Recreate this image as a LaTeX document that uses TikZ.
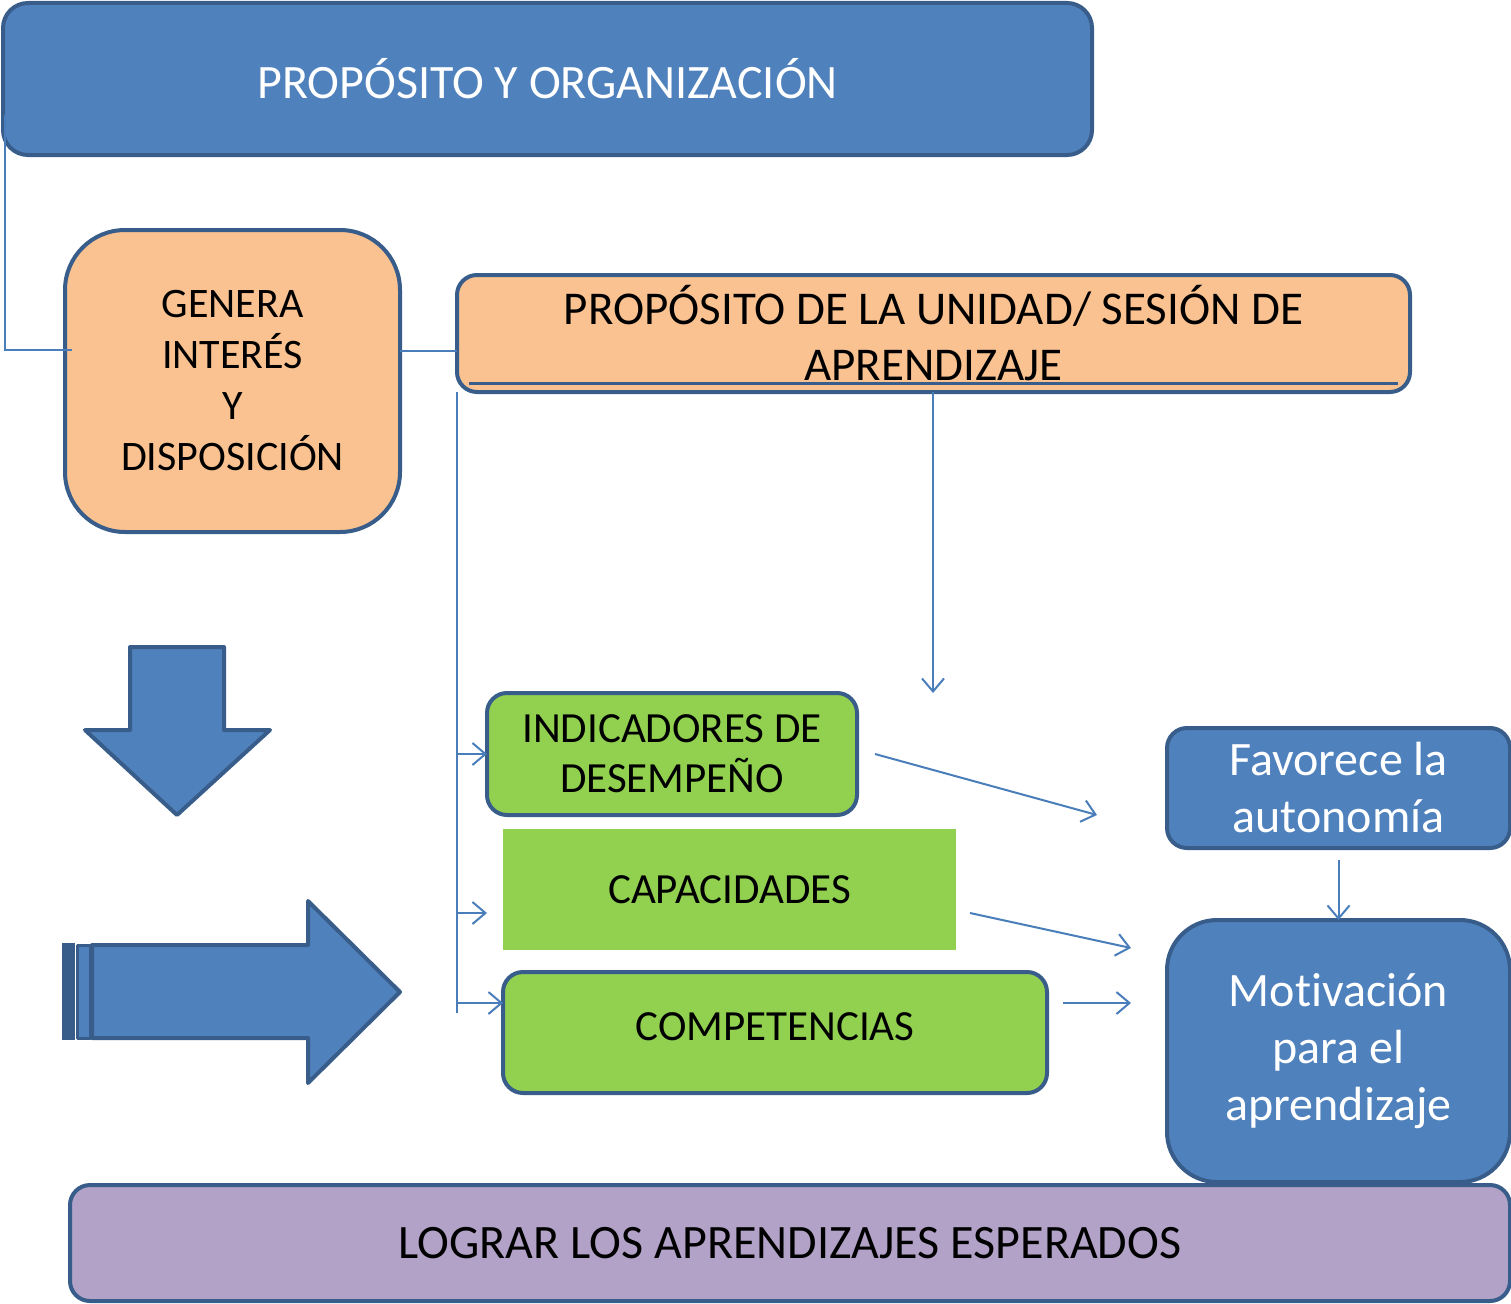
\documentclass[tikz,border=0pt]{standalone}
\usepackage{fontspec}
\setmainfont{Carlito}[Ligatures=NoCommon]
\usepackage{tikz}
\usetikzlibrary{arrows.meta}
\definecolor{fillblue}{HTML}{4F81BD}
\definecolor{bordblue}{HTML}{385D8A}
\definecolor{lineblue}{HTML}{4A7EBB}
\definecolor{peach}{HTML}{F9C290}
\definecolor{leaf}{HTML}{92D050}
\definecolor{lilac}{HTML}{B2A2C7}
\tikzset{
    every node/.style={inner sep=0pt, outer sep=0pt, align=center},
    box/.style={draw=bordblue, line width=4pt, rounded corners=20pt},
    bluebox/.style={box, fill=fillblue, text=white},
    peachbox/.style={box, fill=peach},
    greenbox/.style={box, fill=leaf}
}
\tikzset{
    conn/.style={draw=lineblue, line width=2pt},
    tip/.style={-{Straight Barb[length=13pt,width=22pt,line width=2pt]}}
}
\tikzset{
    bigarrow/.style={fill=fillblue, draw=bordblue, line width=4pt, line join=round}
}
\newcommand{\ftitle}{\fontsize{48}{56}\selectfont}
\newcommand{\fsub}{\fontsize{47}{56}\selectfont}
\newcommand{\fgen}{\fontsize{42}{51}\selectfont}
\newcommand{\fgreen}{\fontsize{43}{50}\selectfont}
\newcommand{\fright}{\fontsize{48}{57}\selectfont}

\begin{document}
\begin{tikzpicture}[x=1pt, y=-1pt]
	\useasboundingbox (0,0) rectangle (1511,1303);

	\node (top) [bluebox, rounded corners=25pt, minimum width=1089pt, minimum height=152pt,
		font=\ftitle] at (547.5, 79) {PROPÓSITO Y ORGANIZACIÓN};
	\node (genera) [peachbox, rounded corners=60pt, minimum width=335pt, minimum height=302pt,
		font=\fgen] at (232.5, 381) {GENERA\\INTERÉS\\Y\\DISPOSICIÓN};
	\node (proposito) [peachbox, minimum width=953pt, minimum height=117pt,
		font=\fsub] at (933.5, 333.5) {PROPÓSITO DE LA UNIDAD/ SESIÓN DE\\APRENDIZAJE};
	\draw [bordblue, line width=3pt] ([xshift=12pt, yshift=8.5pt]proposito.south west)
		-- ([xshift=-12pt, yshift=8.5pt]proposito.south east);

	\node (indic) [greenbox, minimum width=370pt, minimum height=122pt,
		font=\fgreen] at (672, 754) {INDICADORES DE\\DESEMPEÑO};
	\node (capac) [fill=leaf, minimum width=453pt, minimum height=121pt,
		font=\fgreen] at (729.5, 889.5) {CAPACIDADES};
	\node (compet) [greenbox, minimum width=544pt, minimum height=121pt,
		font=\fgreen, text depth=12pt] at (775, 1032.5) {COMPETENCIAS};

	\node (favorece) [bluebox, minimum width=343pt, minimum height=120pt,
		font=\fright] at (1338.5, 788) {Favorece la\\autonomía};
	\node (motiv) [bluebox, rounded corners=50pt, minimum width=343pt, minimum height=262pt,
		font=\fright] at (1338.5, 1051) {Motivación\\para el\\aprendizaje};
	\node (lograr) [box, fill=lilac, minimum width=1440pt, minimum height=116pt,
		font=\ftitle] at (790, 1243) {LOGRAR LOS APRENDIZAJES ESPERADOS};

	% big block arrows
	\draw [bigarrow] (130,647) -- (224,647) -- (224,730) -- (270,730) -- (177,815)
		-- (85,730) -- (130,730) -- cycle;
	\draw [bigarrow] (92,945) -- (308,945) -- (308,901) -- (400,992) -- (308,1083)
		-- (308,1038) -- (92,1038) -- cycle;
	\fill [bordblue] (62,943) rectangle (75,1040);
	\draw [bigarrow, line width=3pt] (77,945) rectangle (90,1038);

	% connectors
	\coordinate (start) at (5,115);
	\coordinate (busend) at (457,1013);
	\coordinate (t1) at (1097,815);
	\coordinate (t2) at (1131,948);
	\coordinate (t3) at (1131,1003);

	\draw [conn] (start) |- ([xshift=7pt, yshift=31pt]genera.west);
	\draw [conn] ([yshift=30pt]genera.east) -- ([yshift=30pt]genera.east -| proposito.west);
	\draw [conn] (proposito.south west) -- (busend);
	\draw [conn, tip] (busend |- indic.west) -- (indic.west);
	\draw [conn, tip] ([yshift=-23.5pt]busend |- capac.west) -- ([xshift=-16pt, yshift=-23.5pt]capac.west);
	\draw [conn, tip] ([yshift=29.5pt]busend |- compet.west) -- ([yshift=29.5pt]compet.west);
	\draw [conn, tip] (proposito.south -| 933,0) -- (933,0 |- indic.north);
	\draw [conn, tip] ([xshift=18pt]indic.east) -- (t1);
	\draw [conn, tip] ([xshift=14pt, yshift=-23.5pt]capac.east) -- (t2);
	\draw [conn, tip] ([xshift=16pt, yshift=29.5pt]compet.east) -- (t3);
	\draw [conn, tip] ([yshift=-12pt]favorece.south) -- (motiv.north);
\end{tikzpicture}
\end{document}
